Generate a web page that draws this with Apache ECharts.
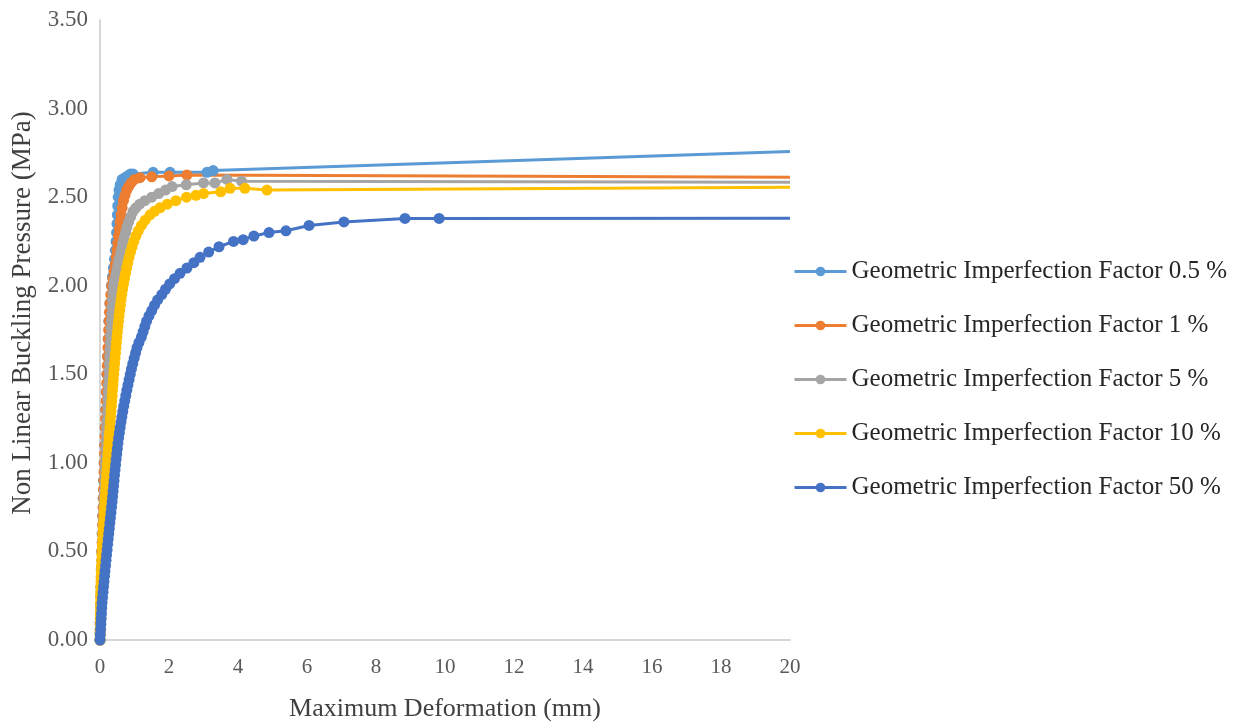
<!DOCTYPE html>
<html>
<head>
<meta charset="utf-8">
<title>Non Linear Buckling Pressure vs Maximum Deformation</title>
<script src="https://cdn.jsdelivr.net/npm/echarts@6/dist/echarts.min.js"></script>
<style>
  html, body { margin: 0; padding: 0; background: #ffffff; }
  #chart { width: 1236px; height: 723px; }
</style>
</head>
<body>
<div id="chart"></div>
<script>
// Series names (legend order)
const seriesNames = [
  'Geometric Imperfection Factor 0.5 %',
  'Geometric Imperfection Factor 1 %',
  'Geometric Imperfection Factor 5 %',
  'Geometric Imperfection Factor 10 %',
  'Geometric Imperfection Factor 50 %'
];

// Axis ticks
const xTicks = [0, 2, 4, 6, 8, 10, 12, 14, 16, 18, 20];
const yTicks = [0, 0.5, 1, 1.5, 2, 2.5, 3, 3.5];

// 0.5 % imperfection: deformation (mm) / pressure (MPa)
const defo05 = [0, 0.005, 0.015, 0.026, 0.038, 0.050, 0.062, 0.076, 0.090, 0.104, 0.118, 0.134, 0.150, 0.166, 0.182, 0.199, 0.217, 0.236, 0.257, 0.285, 0.330, 0.360, 0.390, 0.420, 0.445, 0.465, 0.480, 0.492, 0.503, 0.514, 0.528, 0.550, 0.585, 0.640, 0.720, 0.800, 0.880, 0.960, 1.54, 2.03, 3.10, 3.28, 20];
const pres05 = [0, 0.10, 0.20, 0.30, 0.40, 0.50, 0.60, 0.70, 0.80, 0.90, 1.00, 1.10, 1.20, 1.30, 1.40, 1.50, 1.60, 1.70, 1.80, 1.90, 2.00, 2.05, 2.10, 2.15, 2.20, 2.25, 2.30, 2.35, 2.40, 2.45, 2.50, 2.54, 2.57, 2.60, 2.61, 2.62, 2.63, 2.63, 2.64, 2.64, 2.64, 2.65, 2.757];

// 1 % imperfection
const defo1 = [0, 0.004, 0.009, 0.014, 0.019, 0.024, 0.030, 0.036, 0.042, 0.048, 0.054, 0.060, 0.066, 0.073, 0.080, 0.087, 0.094, 0.101, 0.108, 0.115, 0.122, 0.130, 0.138, 0.146, 0.154, 0.162, 0.170, 0.178, 0.186, 0.194, 0.203, 0.212, 0.221, 0.230, 0.240, 0.250, 0.261, 0.273, 0.290, 0.312, 0.340, 0.372, 0.405, 0.440, 0.468, 0.492, 0.515, 0.537, 0.560, 0.585, 0.612, 0.642, 0.680, 0.725, 0.775, 0.830, 0.900, 1.000, 1.160, 1.50, 2.00, 2.52, 20];
const pres1 = [0, 0.05, 0.10, 0.15, 0.20, 0.25, 0.30, 0.35, 0.40, 0.45, 0.50, 0.55, 0.60, 0.65, 0.70, 0.75, 0.80, 0.85, 0.90, 0.95, 1.00, 1.05, 1.10, 1.15, 1.20, 1.25, 1.30, 1.35, 1.40, 1.45, 1.50, 1.55, 1.60, 1.65, 1.70, 1.75, 1.80, 1.85, 1.90, 1.95, 2.00, 2.04, 2.08, 2.12, 2.16, 2.20, 2.24, 2.28, 2.32, 2.36, 2.40, 2.44, 2.48, 2.51, 2.54, 2.56, 2.58, 2.60, 2.61, 2.615, 2.62, 2.625, 2.612];

// 5 % imperfection
const defo5 = [0, 0.004, 0.008, 0.013, 0.018, 0.023, 0.028, 0.033, 0.039, 0.045, 0.051, 0.057, 0.063, 0.069, 0.075, 0.082, 0.089, 0.096, 0.103, 0.110, 0.117, 0.124, 0.131, 0.139, 0.147, 0.155, 0.163, 0.171, 0.179, 0.187, 0.195, 0.203, 0.211, 0.220, 0.229, 0.238, 0.247, 0.256, 0.265, 0.274, 0.283, 0.292, 0.301, 0.310, 0.320, 0.330, 0.341, 0.352, 0.364, 0.377, 0.395, 0.42, 0.46, 0.49, 0.52, 0.55, 0.59, 0.63, 0.66, 0.70, 0.74, 0.78, 0.83, 0.89, 0.96, 1.04, 1.15, 1.30, 1.50, 1.70, 1.90, 2.09, 2.50, 3.00, 3.33, 3.68, 4.10, 20];
const pres5 = [0, 0.04, 0.08, 0.12, 0.16, 0.20, 0.24, 0.28, 0.32, 0.36, 0.40, 0.44, 0.48, 0.52, 0.56, 0.60, 0.64, 0.68, 0.72, 0.76, 0.80, 0.84, 0.88, 0.92, 0.96, 1.00, 1.04, 1.08, 1.12, 1.16, 1.20, 1.24, 1.28, 1.32, 1.36, 1.40, 1.44, 1.48, 1.52, 1.56, 1.60, 1.64, 1.68, 1.72, 1.76, 1.80, 1.84, 1.88, 1.92, 1.96, 2.00, 2.03, 2.06, 2.09, 2.12, 2.15, 2.18, 2.21, 2.24, 2.27, 2.30, 2.33, 2.36, 2.39, 2.42, 2.44, 2.46, 2.48, 2.50, 2.52, 2.54, 2.56, 2.57, 2.58, 2.58, 2.60, 2.59, 2.584];

// 10 % imperfection
const defo10 = [0, 0.002, 0.004, 0.006, 0.008, 0.010, 0.012, 0.014, 0.017, 0.020, 0.024, 0.028, 0.033, 0.038, 0.044, 0.050, 0.057, 0.064, 0.071, 0.079, 0.087, 0.095, 0.104, 0.113, 0.122, 0.131, 0.141, 0.150, 0.160, 0.170, 0.180, 0.190, 0.200, 0.210, 0.220, 0.231, 0.242, 0.253, 0.264, 0.275, 0.286, 0.297, 0.308, 0.319, 0.330, 0.341, 0.352, 0.363, 0.375, 0.387, 0.399, 0.411, 0.423, 0.436, 0.449, 0.462, 0.476, 0.490, 0.505, 0.520, 0.536, 0.553, 0.571, 0.590, 0.610, 0.632, 0.656, 0.682, 0.710, 0.740, 0.772, 0.806, 0.843, 0.884, 0.930, 0.980, 1.040, 1.110, 1.200, 1.310, 1.450, 1.580, 1.740, 1.950, 2.20, 2.51, 2.78, 3.00, 3.50, 3.77, 4.20, 4.84, 20];
const pres10 = [0, 0.03, 0.06, 0.09, 0.12, 0.15, 0.18, 0.21, 0.24, 0.27, 0.30, 0.33, 0.36, 0.39, 0.42, 0.45, 0.48, 0.51, 0.54, 0.57, 0.60, 0.63, 0.66, 0.69, 0.72, 0.75, 0.78, 0.81, 0.84, 0.87, 0.90, 0.93, 0.96, 0.99, 1.02, 1.05, 1.08, 1.11, 1.14, 1.17, 1.20, 1.23, 1.26, 1.29, 1.32, 1.35, 1.38, 1.41, 1.44, 1.47, 1.50, 1.53, 1.56, 1.59, 1.62, 1.65, 1.68, 1.71, 1.74, 1.77, 1.80, 1.83, 1.86, 1.89, 1.92, 1.95, 1.98, 2.01, 2.04, 2.07, 2.10, 2.13, 2.16, 2.19, 2.22, 2.25, 2.28, 2.31, 2.34, 2.37, 2.40, 2.42, 2.44, 2.46, 2.48, 2.50, 2.51, 2.52, 2.53, 2.55, 2.55, 2.54, 2.556];

// 50 % imperfection
const defo50 = [0, 0.008, 0.017, 0.026, 0.034, 0.043, 0.051, 0.060, 0.074, 0.088, 0.102, 0.116, 0.131, 0.145, 0.160, 0.175, 0.191, 0.206, 0.222, 0.238, 0.254, 0.270, 0.286, 0.302, 0.319, 0.335, 0.351, 0.365, 0.379, 0.393, 0.407, 0.421, 0.436, 0.452, 0.468, 0.485, 0.502, 0.520, 0.540, 0.562, 0.585, 0.609, 0.634, 0.660, 0.688, 0.717, 0.747, 0.778, 0.810, 0.843, 0.877, 0.912, 0.950, 0.990, 1.030, 1.072, 1.130, 1.200, 1.250, 1.300, 1.350, 1.420, 1.500, 1.580, 1.670, 1.790, 1.900, 2.020, 2.160, 2.320, 2.520, 2.720, 2.900, 3.150, 3.450, 3.870, 4.150, 4.460, 4.900, 5.390, 6.060, 7.070, 8.840, 9.830, 20];
const pres50 = [0, 0.03, 0.06, 0.09, 0.12, 0.15, 0.18, 0.21, 0.24, 0.27, 0.30, 0.33, 0.36, 0.39, 0.42, 0.45, 0.48, 0.51, 0.54, 0.57, 0.60, 0.63, 0.66, 0.69, 0.72, 0.75, 0.78, 0.81, 0.84, 0.87, 0.90, 0.93, 0.96, 0.99, 1.02, 1.05, 1.08, 1.11, 1.14, 1.17, 1.20, 1.23, 1.26, 1.29, 1.32, 1.35, 1.38, 1.41, 1.44, 1.47, 1.50, 1.53, 1.56, 1.59, 1.62, 1.65, 1.68, 1.71, 1.74, 1.77, 1.80, 1.83, 1.86, 1.89, 1.92, 1.95, 1.98, 2.01, 2.04, 2.07, 2.10, 2.13, 2.16, 2.19, 2.22, 2.25, 2.26, 2.28, 2.30, 2.31, 2.34, 2.36, 2.38, 2.38, 2.381];

const seriesColors = ['#5B9BD5', '#ED7D31', '#A5A5A5', '#FFC000', '#4472C4'];
const seriesX = [defo05, defo1, defo5, defo10, defo50];
const seriesY = [pres05, pres1, pres5, pres10, pres50];

const FONT = '"Liberation Serif", "Times New Roman", serif';

// Pair up the arrays; the final point sits on the axis end and is drawn as plain line
function buildData(xs, ys) {
  return xs.map(function (x, i) {
    if (i === xs.length - 1) {
      return { value: [x, ys[i]], symbol: 'none' };
    }
    return [x, ys[i]];
  });
}

const series = seriesNames.map(function (name, k) {
  return {
    name: name,
    type: 'line',
    data: buildData(seriesX[k], seriesY[k]),
    symbol: 'circle',
    symbolSize: 11,
    showAllSymbol: true,
    smooth: false,
    clip: true,
    color: seriesColors[k],
    lineStyle: { width: 3, color: seriesColors[k] },
    itemStyle: { color: seriesColors[k] },
    emphasis: { disabled: true },
    animation: false
  };
});

const chart = echarts.init(document.getElementById('chart'), null, { renderer: 'canvas' });

chart.setOption({
  backgroundColor: '#ffffff',
  animation: false,
  grid: { left: 100, right: 446, top: 20, bottom: 83, containLabel: false, outerBoundsMode: 'none' },
  xAxis: {
    type: 'value',
    min: xTicks[0],
    max: xTicks[xTicks.length - 1],
    interval: xTicks[1] - xTicks[0],
    name: 'Maximum Deformation (mm)',
    nameLocation: 'middle',
    nameGap: 56,
    nameTextStyle: { fontFamily: FONT, fontSize: 26, color: '#404040' },
    axisLine: { show: true, lineStyle: { color: '#C8C8C8', width: 1.5 } },
    axisTick: { show: false },
    splitLine: { show: false },
    axisLabel: { fontFamily: FONT, fontSize: 21, color: '#595959', margin: 17 }
  },
  yAxis: {
    type: 'value',
    min: yTicks[0],
    max: yTicks[yTicks.length - 1],
    interval: yTicks[1] - yTicks[0],
    name: 'Non Linear Buckling Pressure (MPa)',
    nameLocation: 'middle',
    nameRotate: 90,
    nameGap: 59,
    nameTextStyle: { fontFamily: FONT, fontSize: 27, color: '#404040', padding: [0, 0, 0, 34] },
    axisLine: { show: true, lineStyle: { color: '#C8C8C8', width: 1.5 } },
    axisTick: { show: false },
    splitLine: { show: false },
    axisLabel: {
      fontFamily: FONT, fontSize: 23, color: '#595959', margin: 12,
      formatter: function (v) { return v.toFixed(2); }
    }
  },
  legend: {
    orient: 'vertical',
    left: 788,
    top: 254,
    itemWidth: 52,
    itemHeight: 12,
    itemGap: 29,
    data: seriesNames,
    lineStyle: { width: 3 },
    textStyle: { fontFamily: FONT, fontSize: 25, color: '#262626' }
  },
  series: series
});
</script>
</body>
</html>
